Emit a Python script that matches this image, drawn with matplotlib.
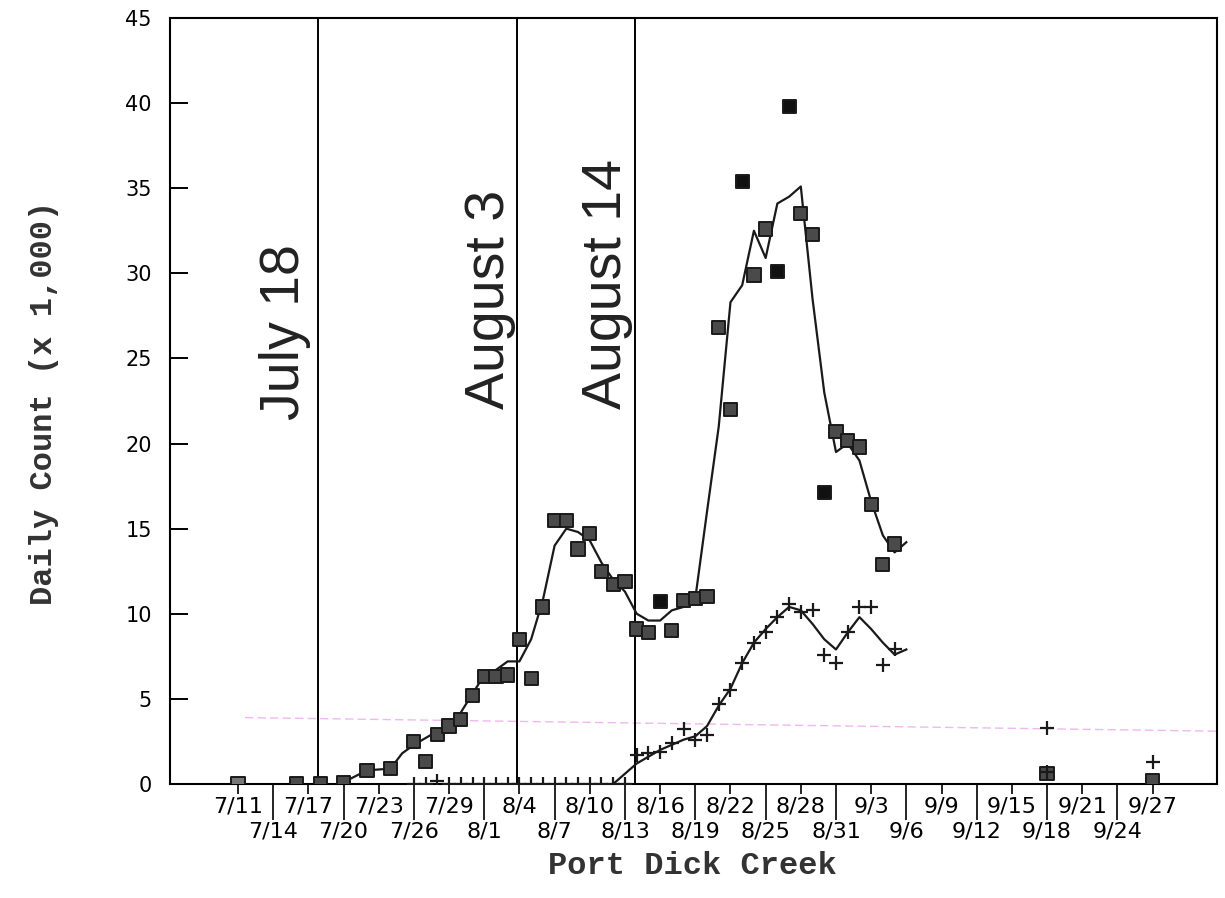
import matplotlib
matplotlib.use("Agg")
import matplotlib.pyplot as plt
import numpy as np

# days counted from 7/11
sq_day = [0, 5, 7, 9, 11, 13, 15, 16, 17, 18, 19, 20, 21, 22, 23, 24, 25, 26,
          27, 28, 29, 30, 31, 32, 33, 34, 35, 36, 37, 38, 39, 40, 41, 42, 43,
          44, 45, 46, 47, 48, 49, 50, 51, 52, 53, 54, 55, 56, 69, 78]
sq_val = [0, 0, 0, 0.1, 0.8, 0.9, 2.5, 1.3, 2.9, 3.4, 3.8, 5.2, 6.3, 6.3, 6.4,
          8.5, 6.2, 10.4, 15.5, 15.5, 13.8, 14.7, 12.5, 11.7, 11.9, 9.1, 8.9,
          10.7, 9.0, 10.8, 10.9, 11.0, 26.8, 22.0, 35.4, 29.9, 32.6, 30.1, 39.8,
          33.5, 32.3, 17.1, 20.7, 20.2, 19.8, 16.4, 12.9, 14.1, 0.6, 0.2]
sq_solid = [36, 43, 46, 47, 50]

sq_line_day = [9, 11, 13, 14, 15, 16, 17, 18, 19, 20, 21, 22, 23, 24, 25, 26,
               27, 28, 29, 30, 31, 32, 33, 34, 35, 36, 37, 38, 39, 40, 41, 42,
               43, 44, 45, 46, 47, 48, 49, 50, 51, 52, 53, 54, 55, 56, 57]
sq_line_val = [0.1, 0.8, 0.9, 1.8, 2.3, 2.7, 3.1, 3.5, 4.2, 5.3, 6.4, 6.7, 7.2,
               7.2, 8.5, 10.8, 14.0, 15.0, 14.8, 14.3, 13.0, 12.0, 11.3, 10.0,
               9.6, 9.6, 10.2, 10.4, 10.9, 16.0, 21.0, 28.3, 29.3, 32.5, 30.9,
               34.1, 34.5, 35.1, 28.5, 23.0, 19.5, 20.0, 19.0, 16.6, 14.6, 13.6,
               14.2]

pl_day = [15, 16, 17, 18, 19, 20, 21, 22, 23, 24, 25, 26, 27, 28, 29, 30, 31,
          32, 33, 34, 35, 36, 37, 38, 39, 40, 41, 42, 43, 44, 45, 46, 47, 48,
          49, 50, 51, 52, 53, 54, 55, 56, 69, 69, 78]
pl_val = [0, 0, 0.2, 0, 0, 0, 0, 0, 0, 0, 0, 0, 0, 0, 0, 0, 0, 0, 0, 1.7, 1.8,
          1.9, 2.4, 3.2, 2.6, 2.9, 4.7, 5.5, 7.1, 8.3, 8.9, 9.8, 10.6, 10.1,
          10.2, 7.6, 7.1, 8.9, 10.4, 10.4, 7.0, 7.9, 3.3, 0.7, 1.3]

pl_line_day = [32, 33, 34, 35, 36, 37, 38, 39, 40, 41, 42, 43, 44, 45, 46, 47,
               48, 49, 50, 51, 52, 53, 54, 55, 56, 57]
pl_line_val = [0, 0.6, 1.2, 1.6, 2.0, 2.3, 2.6, 2.8, 3.4, 4.6, 5.6, 7.1, 8.3,
               9.1, 9.8, 10.4, 10.2, 9.4, 8.5, 7.9, 8.9, 9.8, 9.1, 8.3, 7.6, 7.9]

top_ticks = [0, 6, 12, 18, 24, 30, 36, 42, 48, 54, 60, 66, 72, 78]
top_labels = ['7/11', '7/17', '7/23', '7/29', '8/4', '8/10', '8/16', '8/22',
              '8/28', '9/3', '9/9', '9/15', '9/21', '9/27']
bot_ticks = [3, 9, 15, 21, 27, 33, 39, 45, 51, 57, 63, 69, 75]
bot_labels = ['7/14', '7/20', '7/26', '8/1', '8/7', '8/13', '8/19', '8/25',
              '8/31', '9/6', '9/12', '9/18', '9/24']

event_day = [6.85, 23.8, 33.85]
event_text = ['July 18', 'August 3', 'August 14']

# faint pink scan line
pink_day = [0.6, 83.5]
pink_val = [3.9, 3.1]

fig = plt.figure(figsize=(12.25, 8.98), dpi=100)
ax = fig.add_axes([0.1388, 0.127, 0.8547, 0.853])

ax.plot(pink_day, pink_val, color="#f0b8f0", lw=1.0, ls=(0, (6, 3)), zorder=1)

for d in event_day:
    ax.axvline(d, color="black", lw=1.4, zorder=2)

ax.plot(sq_line_day, sq_line_val, color="#1a1a1a", lw=1.6, zorder=3)
ax.plot(pl_line_day, pl_line_val, color="#1a1a1a", lw=1.6, zorder=3)

sq_face = ["#111111" if d in sq_solid else "#4a4a4a" for d in sq_day]
sq_face[0] = "#777777"
ax.scatter(sq_day, sq_val, marker="s", s=90, c=sq_face, edgecolors="#1a1a1a",
           linewidths=1.4, zorder=4)
ax.scatter(pl_day, pl_val, marker="+", s=115, color="#1a1a1a", linewidths=1.6,
           zorder=4)

ax.text(4.0, 21.4, event_text[0], rotation=90, ha="center", va="bottom",
        fontsize=40, family="Liberation Sans", color="#222222")
ax.text(21.5, 22.0, event_text[1], rotation=90, ha="center", va="bottom",
        fontsize=40, family="Liberation Sans", color="#222222")
ax.text(31.5, 22.0, event_text[2], rotation=90, ha="center", va="bottom",
        fontsize=40, family="Liberation Sans", color="#222222")

ax.set_xlim(-5.8, 83.5)
ax.set_ylim(0, 45)

ax.set_yticks(np.arange(0, 46, 5))
ax.tick_params(axis="y", direction="in", length=13, width=1.4, pad=13,
               labelsize=15)
ax.set_xticks(top_ticks)
ax.set_xticklabels(top_labels)
ax.set_xticks(bot_ticks, minor=True)
ax.set_xticklabels(bot_labels, minor=True)
ax.tick_params(axis="x", which="major", direction="out", length=7, width=1.2,
               pad=2, labelsize=16)
ax.tick_params(axis="x", which="minor", direction="out", length=26, width=1.2,
               pad=1, labelsize=16)
for sp in ax.spines.values():
    sp.set_linewidth(1.5)

fig.text(44 / 1225, 1 - 403 / 898, "Daily Count (x 1,000)", rotation=90,
         ha="center", va="center", fontsize=23, family="Liberation Mono",
         fontweight="bold", color="#333333")
fig.text(692 / 1225, 1 - 866 / 898, "Port Dick Creek", ha="center",
         va="center", fontsize=23, family="Liberation Mono", fontweight="bold",
         color="#333333")

fig.savefig("out.png", dpi=100)
